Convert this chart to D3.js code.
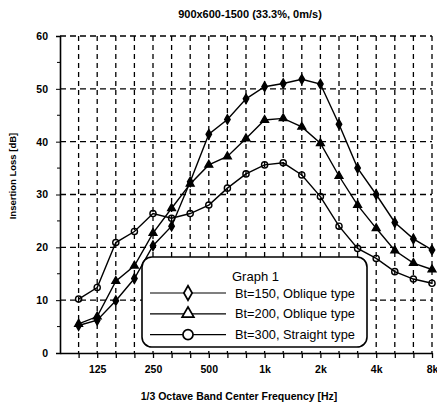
<!DOCTYPE html>
<html>
<head>
<meta charset="utf-8">
<script src="https://cdnjs.cloudflare.com/ajax/libs/d3/7.8.5/d3.min.js"></script>
<style>
  body { margin: 0; background: #fff; }
  text { font-family: "Liberation Sans", Arial, sans-serif; fill: #000; }
</style>
</head>
<body>
<div id="chartContainer"></div>
<script>
var chartConfig = {
  w: 437,
  h: 409,
  left: 60,
  right: 432,
  top: 36,
  bot: 353
};

// 1/3 octave bands
var bands = ["100", "125", "160", "200", "250", "315", "400", "500", "630", "800",
             "1k", "1.25k", "1.6k", "2k", "2.5k", "3.15k", "4k", "5k", "6.3k", "8k"];
var bandLabels = ["125", "250", "500", "1k", "2k", "4k", "8k"];

var yTicks = [0, 10, 20, 30, 40, 50, 60];

var seriesNames = ["Bt=150, Oblique type", "Bt=200, Oblique type", "Bt=300, Straight type"];
var seriesMarkers = ["diamond", "triangle", "circle"];

var bt150 = [5.2, 6.2, 9.9, 14.1, 20.3, 24.0, 32.4, 41.4, 44.2, 48.1,
             50.4, 51.0, 51.8, 50.9, 43.3, 35.0, 30.0, 24.7, 21.6, 19.5];
var bt200 = [5.5, 6.9, 13.6, 16.5, 22.7, 27.4, 32.0, 35.6, 37.2, 40.6,
             44.1, 44.4, 42.8, 39.7, 33.5, 28.0, 23.6, 19.4, 17.0, 15.8];
var bt300 = [10.2, 12.4, 20.9, 23.0, 26.4, 25.5, 26.4, 28.0, 31.2, 33.9,
             35.6, 36.0, 33.7, 29.6, 24.0, 19.8, 17.9, 15.4, 14.0, 13.2];

var allSeries = [bt150, bt200, bt300];

var svg = d3.select("#chartContainer").append("svg")
  .attr("width", chartConfig.w)
  .attr("height", chartConfig.h);

var x = d3.scaleLinear()
  .domain([-1, bands.length - 1])
  .range([chartConfig.left, chartConfig.right]);

var y = d3.scaleLinear()
  .domain([0, 60])
  .range([chartConfig.bot, chartConfig.top]);

// dashed grid
svg.append("g").selectAll("line.vgrid")
  .data(bands)
  .enter().append("line")
  .attr("class", "vgrid")
  .attr("x1", function(d, i) { return x(i); })
  .attr("x2", function(d, i) { return x(i); })
  .attr("y1", y(60))
  .attr("y2", y(0))
  .style("stroke", "#000")
  .style("stroke-width", 1.3)
  .style("stroke-dasharray", "5,4");

svg.append("g").selectAll("line.hgrid")
  .data(yTicks.slice(1))
  .enter().append("line")
  .attr("class", "hgrid")
  .attr("x1", x(-1))
  .attr("x2", x(bands.length - 1))
  .attr("y1", function(d) { return y(d); })
  .attr("y2", function(d) { return y(d); })
  .style("stroke", "#000")
  .style("stroke-width", 1.3)
  .style("stroke-dasharray", "6,4");

// axes
var yAxis = d3.axisLeft(y)
  .tickValues(yTicks)
  .tickSize(4)
  .tickPadding(8)
  .tickFormat(d3.format("d"));

var gy = svg.append("g")
  .attr("transform", "translate(" + chartConfig.left + ",0)")
  .call(yAxis);

gy.select(".domain").attr("stroke-width", 1.6);
gy.selectAll("text")
  .style("font-size", "10.5px")
  .style("font-weight", "bold");

// minor ticks on the y axis
gy.selectAll("line.minor")
  .data(d3.range(5, 60, 10))
  .enter().append("line")
  .attr("class", "minor")
  .attr("x1", -3)
  .attr("x2", 1)
  .attr("y1", function(d) { return y(d); })
  .attr("y2", function(d) { return y(d); })
  .style("stroke", "#000");

var xAxis = d3.axisBottom(x)
  .tickValues(d3.range(bands.length))
  .tickSize(5)
  .tickPadding(8)
  .tickSizeOuter(0)
  .tickFormat(function(i) { return bandLabels.indexOf(bands[i]) >= 0 ? bands[i] : ""; });

var gx = svg.append("g")
  .attr("transform", "translate(0," + chartConfig.bot + ")")
  .call(xAxis);

gx.select(".domain").attr("stroke-width", 1.6);
gx.selectAll("line").attr("stroke-width", 1.3);
gx.selectAll("text")
  .style("font-size", "10.5px")
  .style("font-weight", "bold");

// lines and markers
var line = d3.line()
  .x(function(d, i) { return x(i); })
  .y(function(d) { return y(d); });

var symbolType = {
  diamond: d3.symbolDiamond,
  triangle: d3.symbolTriangle,
  circle: d3.symbolCircle
};

allSeries.forEach(function(s, k) {
  svg.append("path")
    .datum(s)
    .attr("d", line)
    .style("fill", "none")
    .style("stroke", "#000")
    .style("stroke-width", 1.4);

  svg.append("g").selectAll("path")
    .data(s)
    .enter().append("path")
    .attr("transform", function(d, i) { return "translate(" + x(i) + "," + y(d) + ")"; })
    .attr("d", d3.symbol().type(symbolType[seriesMarkers[k]]).size(k == 2 ? 30 : 26))
    .style("fill", k == 2 ? "none" : "#000")
    .style("stroke", "#000")
    .style("stroke-width", 1.4);
});

// legend
var legend = svg.append("g")
  .attr("class", "legend")
  .attr("transform", "translate(142,257)");

legend.append("rect")
  .attr("width", 225)
  .attr("height", 90)
  .attr("rx", 10)
  .attr("ry", 10)
  .style("fill", "#fff")
  .style("stroke", "#000")
  .style("stroke-width", 1.6);

legend.append("text")
  .attr("x", 90)
  .attr("y", 24)
  .style("font-size", "13px")
  .text("Graph 1");

var entry = legend.selectAll(".entry")
  .data(seriesNames)
  .enter().append("g")
  .attr("class", "entry")
  .attr("transform", function(d, i) { return "translate(0," + (36 + i * 20.8) + ")"; });

entry.append("line")
  .attr("x1", 8)
  .attr("x2", 84)
  .style("stroke", "#000")
  .style("stroke-width", 1.2);

entry.append("path")
  .attr("transform", "translate(46,0)")
  .attr("d", function(d, i) { return d3.symbol().type(symbolType[seriesMarkers[i]]).size(i == 2 ? 80 : 60)(); })
  .style("fill", "#fff")
  .style("stroke", "#000")
  .style("stroke-width", 1.7);

entry.append("text")
  .attr("x", 93)
  .attr("y", 4.5)
  .style("font-size", "12.8px")
  .text(function(d) { return d; });

// titles
svg.append("text")
  .attr("x", 250)
  .attr("y", 18)
  .attr("text-anchor", "middle")
  .style("font-size", "11px")
  .style("font-weight", "bold")
  .text("900x600-1500 (33.3%, 0m/s)");

svg.append("text")
  .attr("transform", "translate(16,176) rotate(-90)")
  .attr("text-anchor", "middle")
  .style("font-size", "9.5px")
  .style("font-weight", "bold")
  .text("Insertion Loss [dB]");

svg.append("text")
  .attr("x", 239)
  .attr("y", 400)
  .attr("text-anchor", "middle")
  .style("font-size", "10.5px")
  .style("font-weight", "bold")
  .text("1/3 Octave Band Center Frequency [Hz]");
</script>
</body>
</html>
